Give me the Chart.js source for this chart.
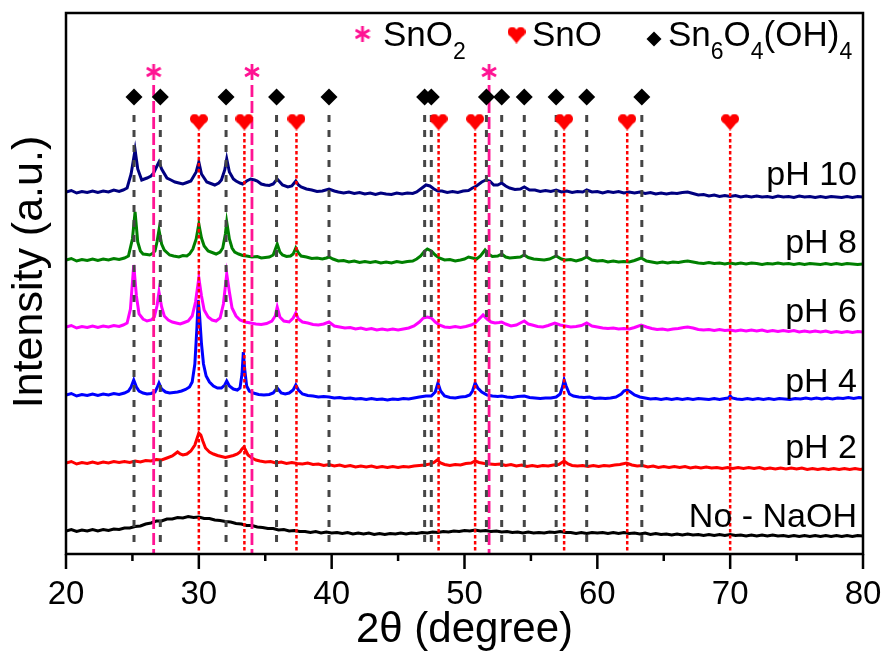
<!DOCTYPE html>
<html><head><meta charset="utf-8">
<script src="https://cdn.jsdelivr.net/npm/chart.js@4/dist/chart.umd.min.js"></script>
<style>html,body{margin:0;padding:0;background:#fff}#wrap{width:886px;height:657px;position:relative}</style>
</head><body><div id="wrap"><canvas id="c" width="886" height="657"></canvas></div>
<script>
// ---------- DATA ----------
const xTicks = [20, 30, 40, 50, 60, 70, 80];
const seriesNames = ['pH 10', 'pH 8', 'pH 6', 'pH 4', 'pH 2', 'No - NaOH'];

const pH10 = [[20,362],[20.4,363.5],[20.8,361],[21.2,362.5],[21.6,361.5],[22,363],[22.4,361.5],[22.8,363],[23.2,362],[23.6,364],[24,362.5],[24.3,364],[24.6,366],[24.9,380],[25.2,404],[25.4,385],[25.7,374],[26.1,376],[26.4,378],[26.6,381],[26.85,388],[27.0,392],[27.2,385],[27.6,376],[27.9,374],[28.2,372],[28.5,371],[28.8,370],[29.1,371.5],[29.4,373],[29.8,382],[30.0,392],[30.2,380],[30.6,372],[30.9,370.5],[31.2,369],[31.5,371],[31.7,374],[31.95,384],[32.1,395],[32.3,382],[32.6,375],[32.8,373],[33.1,371],[33.3,370],[33.6,373],[33.9,375],[34.2,374],[34.4,373],[34.7,370],[35,369],[35.3,368.5],[35.6,370],[35.9,375],[36.1,372],[36.3,369],[36.7,367],[37,368],[37.3,373],[37.5,369],[37.7,367],[38.1,365],[38.5,364],[38.9,362.5],[39.3,363],[39.8,365],[40.2,363],[40.5,362],[40.9,361],[41.3,362],[41.7,360.5],[42.1,361.5],[42.5,360],[42.9,361],[43.3,359.5],[43.7,361],[44.1,360],[44.5,359.5],[44.9,361],[45.3,360],[45.7,361],[46.1,360.5],[46.4,362],[46.7,365],[47.1,369],[47.4,368],[47.7,365],[48,363],[48.3,363],[48.7,361.5],[49.1,362.5],[49.5,361.5],[49.9,363],[50.3,363.5],[50.6,366],[50.9,368],[51.3,372],[51.6,374],[51.9,373],[52.2,369],[52.5,369],[52.8,371],[53.1,368],[53.4,366],[53.8,364.5],[54.2,365],[54.5,367],[54.9,364],[55.3,364],[55.7,362.5],[56.1,363.5],[56.5,362.5],[56.9,364],[57.3,362],[57.7,363],[58.1,361.5],[58.5,362.5],[58.9,362],[59.2,364],[59.6,362],[60,362.5],[60.4,361],[60.8,362.5],[61.2,361.5],[61.6,362.5],[62,361],[62.4,362],[62.8,361],[63.2,362],[63.6,360.5],[64,361.5],[64.4,360],[64.8,361],[65.2,360],[65.6,361],[66,360.5],[66.4,361.5],[66.8,362],[67.2,360.5],[67.6,359],[68,359.5],[68.4,358],[68.8,359],[69.2,357.5],[69.6,358.5],[70,357.5],[70.4,358.5],[70.8,357],[71.2,358],[71.6,357],[72,358],[72.4,357],[72.8,357.5],[73.2,356.5],[73.6,358],[74,357],[74.4,357.5],[74.8,356.5],[75.2,358],[75.6,357],[76,357.5],[76.4,356.5],[76.8,357.5],[77.2,356.5],[77.6,357.5],[78,357],[78.4,356.5],[78.8,357.5],[79.2,356.5],[79.6,357.5],[80,357]];

const pH8 = [[20,294],[20.4,295.5],[20.8,293],[21.2,294.5],[21.6,293.5],[22,295],[22.4,293.5],[22.8,295],[23.2,294],[23.6,295.5],[24,294.5],[24.4,296],[24.7,298],[25.0,315],[25.2,342],[25.4,312],[25.6,303],[25.8,300],[26.1,299.5],[26.3,299],[26.5,300.5],[26.7,303],[26.85,312],[27.0,324],[27.2,310],[27.4,304],[27.8,299],[28.1,298],[28.5,297],[28.8,298.5],[29.1,298],[29.3,300],[29.55,305],[29.8,315],[30,330],[30.2,316],[30.4,308],[30.7,303],[31,301.5],[31.3,300],[31.6,302],[31.8,306],[32.0,320],[32.1,332],[32.3,315],[32.5,306],[32.7,302],[33,300],[33.3,298.5],[33.6,298],[34,297],[34.4,297.5],[34.7,296],[35,296.5],[35.3,297],[35.6,299],[35.9,310],[36.1,302],[36.3,299],[36.6,297.5],[36.9,298],[37.1,300],[37.3,306],[37.5,301],[37.7,298],[38.1,297],[38.5,295.5],[38.9,296],[39.3,295],[39.6,296],[39.8,297],[40.1,295],[40.5,293],[40.9,293.5],[41.3,292],[41.7,293],[42.1,291.5],[42.5,292.5],[42.9,291.5],[43.3,292.5],[43.7,291],[44.1,292],[44.5,291],[44.9,292.5],[45.3,291.5],[45.7,292.5],[46.1,293],[46.4,295],[46.7,298],[47.0,303],[47.2,305],[47.5,303],[47.8,299],[48.1,296],[48.5,294],[48.9,294.5],[49.3,293],[49.7,294],[50,295],[50.3,297],[50.6,296],[50.9,295],[51.2,298],[51.55,304],[51.8,300],[52.1,297.5],[52.5,298],[52.8,300],[53.1,297],[53.4,296],[53.8,296.5],[54.2,297],[54.5,299],[54.8,296.5],[55.2,295],[55.6,294.5],[56,294],[56.4,295],[56.9,298],[57.3,295],[57.6,294],[58,294.5],[58.4,293],[58.8,294.5],[59.2,297],[59.6,294],[60,293],[60.4,293.5],[60.8,292],[61.2,293],[61.6,292],[62,292.5],[62.4,292],[62.8,293.5],[63.3,296],[63.7,293],[64.1,292],[64.5,291],[64.9,292],[65.3,291],[65.7,292],[66.1,291.5],[66.5,292.5],[66.8,293],[67.2,292],[67.6,291],[68,290.5],[68.4,291.5],[68.8,290.5],[69.2,291],[69.6,290],[70,291],[70.4,290],[70.8,291],[71.2,290],[71.6,291],[72,290.5],[72.4,289.5],[72.8,290.5],[73.2,290],[73.6,291],[74,290],[74.4,290.5],[74.8,289.5],[75.2,290.5],[75.6,289.5],[76,290.5],[76.4,290],[76.8,289.5],[77.2,290.5],[77.6,289.5],[78,290.5],[78.4,289.5],[78.8,290.5],[79.2,290],[79.6,289.5],[80,290]];

const pH6 = [[20,227],[20.4,228.5],[20.8,226],[21.2,227.5],[21.6,226.5],[22,228],[22.4,226.5],[22.8,228],[23.2,227],[23.6,228.5],[24,227.5],[24.3,229],[24.6,231],[24.85,245],[25.1,289],[25.3,258],[25.5,240],[25.8,235],[26.1,233],[26.4,234],[26.65,237],[26.85,248],[27.0,262],[27.2,247],[27.4,238],[27.7,234],[28,232],[28.3,231],[28.6,230],[28.9,231.5],[29.2,233],[29.5,238],[29.75,252],[30,276],[30.2,258],[30.4,244],[30.7,237],[31,234],[31.3,233],[31.6,236],[31.85,250],[32.1,280],[32.3,262],[32.5,246],[32.8,238],[33.1,234],[33.5,232],[33.9,231],[34.3,230],[34.7,229.5],[35.1,230.5],[35.5,233],[35.75,238],[35.9,247],[36.1,237],[36.4,233],[36.8,232],[37.1,236],[37.3,241],[37.5,235],[37.8,232],[38.2,231],[38.6,229.5],[39,229],[39.4,230],[39.8,232],[40.2,228],[40.6,227],[41,226],[41.4,226.5],[41.8,225],[42.2,226],[42.6,224.5],[43,225.5],[43.4,224],[43.8,225],[44.2,224],[44.6,225],[45,224],[45.4,225],[45.8,226],[46.2,228],[46.6,232],[46.9,236],[47.2,237],[47.5,236],[47.8,232],[48.1,229],[48.5,227],[48.9,226.5],[49.3,227.5],[49.7,226.5],[50.1,227.5],[50.5,229],[50.8,231],[51.1,235],[51.4,239],[51.7,235],[52,232],[52.3,231],[52.6,231.5],[52.8,232],[53.1,230],[53.5,228],[53.9,229],[54.2,231],[54.5,233],[54.8,230],[55.1,229],[55.5,227.5],[55.9,227],[56.3,228.5],[56.8,231],[57.2,229],[57.6,228],[58,227],[58.4,227.5],[58.8,228.5],[59.2,231],[59.6,228],[60,227],[60.4,226],[60.8,225.5],[61.2,226],[61.6,225],[62,225.5],[62.4,225],[62.8,226.5],[63.3,229],[63.7,227],[64.1,225.5],[64.5,224.5],[64.9,225],[65.3,224],[65.7,225],[66.1,225.5],[66.5,226.5],[66.8,227],[67.2,226],[67.6,224.5],[68,224],[68.4,224.5],[68.8,223.5],[69.2,224.5],[69.6,223.5],[70,224],[70.4,223],[70.8,224],[71.2,223],[71.6,224],[72,223],[72.4,224],[72.8,222.5],[73.2,223.5],[73.6,222.5],[74,223.5],[74.4,222.5],[74.8,223.5],[75.2,222],[75.6,223],[76,222],[76.4,223],[76.8,222],[77.2,223],[77.6,221.5],[78,222.5],[78.4,221.5],[78.8,222.5],[79.2,221.5],[79.6,222.5],[80,222]];

const pH4 = [[20,159],[20.4,160.5],[20.8,158],[21.2,159.5],[21.6,158.5],[22,160],[22.4,158.5],[22.8,160],[23.2,159],[23.6,160.5],[24,159.5],[24.4,161],[24.7,163],[24.9,167],[25.1,174],[25.3,167],[25.5,163],[25.8,161],[26.1,160],[26.4,160.5],[26.7,162],[26.85,166],[27.0,171],[27.2,165],[27.5,162],[27.8,161],[28.1,161.5],[28.4,162],[28.7,163],[29,164.5],[29.3,167],[29.5,172],[29.7,190],[29.85,225],[29.95,254],[30.05,240],[30.2,210],[30.35,190],[30.55,178],[30.8,172],[31.1,168],[31.4,166],[31.7,166],[31.95,169],[32.1,173],[32.3,168],[32.6,165],[32.9,164],[33.1,166],[33.25,180],[33.35,202],[33.45,185],[33.6,168],[33.8,163],[34.1,161],[34.5,159.5],[34.9,159],[35.3,159.5],[35.6,161],[35.9,166],[36.2,161],[36.5,160],[36.8,161],[37.1,164],[37.3,169],[37.5,164],[37.8,160],[38.2,158.5],[38.6,158],[39,157],[39.4,157.5],[39.8,157],[40.2,156],[40.6,156.5],[41,155.5],[41.4,156],[41.8,155],[42.2,155.5],[42.6,154.5],[43,155.5],[43.4,154.5],[43.8,155],[44.2,154],[44.6,155],[45,154.5],[45.4,155.5],[45.8,155],[46.2,156],[46.6,157],[47.1,158],[47.5,158],[47.8,162],[48.0,171],[48.2,163],[48.5,158],[48.9,156.5],[49.3,156],[49.7,157],[50.1,157.5],[50.4,159],[50.6,163],[50.8,171],[51.0,166],[51.3,162],[51.7,159],[52.1,158],[52.5,157.5],[52.8,158],[53.2,157],[53.6,156.5],[54,157.5],[54.5,158],[54.9,156.5],[55.3,156],[55.7,155.5],[56.1,156],[56.5,156],[56.9,157],[57.2,160],[57.4,168],[57.5,174],[57.65,168],[57.9,160],[58.2,158],[58.6,157],[59,156.5],[59.4,157],[59.8,155.5],[60.2,156],[60.6,155.5],[61,156],[61.4,157],[61.8,160],[62.0,163],[62.25,164],[62.5,162],[62.8,159],[63.2,157],[63.6,156],[64,155],[64.4,155.5],[64.8,154.5],[65.2,155.5],[65.6,154.5],[66,155.5],[66.4,154.5],[66.8,155.5],[67.2,154.5],[67.6,155.5],[68,155],[68.4,154.5],[68.8,155.5],[69.2,154.5],[69.6,155.5],[69.85,156],[70.0,158],[70.15,156],[70.5,155],[70.9,154.5],[71.3,155.5],[71.7,154.5],[72.1,155.5],[72.5,154.5],[72.9,155.5],[73.3,154.5],[73.7,155.5],[74.1,155],[74.5,154.5],[74.9,155.5],[75.3,155],[75.7,156],[76.1,155],[76.5,156],[76.9,155],[77.3,156],[77.7,155],[78.1,156],[78.5,155.5],[78.9,156.5],[79.3,155.5],[79.7,156.5],[80,156]];

const pH2 = [[20,91],[20.4,92.5],[20.8,90],[21.2,91.5],[21.6,90.5],[22,92],[22.4,90.5],[22.8,92],[23.2,91],[23.6,92.5],[24,91.5],[24.4,92.5],[24.8,91.5],[25.2,93],[25.6,92],[26,93.5],[26.4,93],[26.8,94.5],[27.2,94],[27.6,96],[28,98],[28.2,100],[28.4,102],[28.6,100],[28.8,99],[29.1,100],[29.4,103],[29.7,109],[29.85,115],[30,121],[30.15,119],[30.3,113],[30.5,106],[30.8,102],[31.1,100],[31.4,98.5],[31.7,97.5],[32,96.5],[32.3,97.5],[32.6,98.5],[32.9,100],[33.1,102],[33.25,105],[33.4,107],[33.55,103],[33.7,99],[34,96],[34.3,94],[34.6,93],[35,92],[35.4,92.5],[35.8,91],[36.2,92],[36.6,90.5],[37,91.5],[37.4,90.5],[37.8,90],[38.2,91],[38.6,89.5],[39,90],[39.4,88.5],[39.8,89.5],[40.2,88],[40.6,89],[41,87.5],[41.4,88.5],[41.8,87],[42.2,88],[42.6,87],[43,88],[43.4,86.5],[43.8,87.5],[44.2,86.5],[44.6,87.5],[45,86.5],[45.4,87.5],[45.8,87],[46.2,88],[46.6,88.5],[47,89],[47.4,90],[47.7,91.5],[47.95,94],[48.2,91],[48.5,89.5],[48.9,88.5],[49.3,89.5],[49.7,89],[50.1,90.5],[50.5,91],[50.8,93],[51.1,91.5],[51.5,90.5],[51.9,90],[52.3,89.5],[52.7,90],[53.1,88.5],[53.5,89.5],[53.9,88],[54.3,89],[54.7,87.5],[55.1,88.5],[55.5,87.5],[55.9,88.5],[56.3,88],[56.7,89],[57.1,89.5],[57.5,93],[57.8,90],[58.1,88.5],[58.5,88],[58.9,88.5],[59.3,87.5],[59.7,88.5],[60.1,87.5],[60.5,88.5],[60.9,88],[61.3,89],[61.7,89.5],[62.2,91],[62.6,89],[63,88],[63.4,88.5],[63.8,87],[64.2,88],[64.6,86.5],[65,87.5],[65.4,86.5],[65.8,87.5],[66.2,86.5],[66.6,87.5],[67,86],[67.4,87],[67.8,86],[68.2,87],[68.6,86],[69,86.5],[69.4,85.5],[69.8,86.5],[70.2,85.5],[70.6,86.5],[71,85.5],[71.4,86.5],[71.8,85.5],[72.2,86.5],[72.6,85],[73,86],[73.4,85],[73.8,86],[74.2,85],[74.6,86],[75,85],[75.4,86],[75.8,84.5],[76.2,85.5],[76.6,84.5],[77,85.5],[77.4,84.5],[77.8,85.5],[78.2,84.5],[78.6,85.5],[79,84.5],[79.4,85.5],[79.8,84.5],[80,85]];

const noNaOH = [[20,23],[20.4,24.5],[20.8,22.5],[21.2,24],[21.6,23],[22,24.5],[22.4,23],[22.8,24.5],[23.2,23.5],[23.6,25],[24,24.5],[24.4,26],[24.8,26],[25.2,27.5],[25.6,28],[26,30],[26.4,31],[26.8,33],[27.2,33],[27.6,35],[28,35],[28.4,36.5],[28.8,36],[29.2,37.5],[29.6,36.5],[30,37],[30.4,35.5],[30.8,35.5],[31.2,34],[31.6,33.5],[32,32.5],[32.4,32],[32.8,30.5],[33.2,30],[33.6,28.5],[34,28.5],[34.4,27],[34.8,26.5],[35.2,25.5],[35.6,25.5],[36,24],[36.4,24.5],[36.8,23],[37.2,23.5],[37.6,22.5],[38,22.5],[38.4,21.5],[38.8,22.5],[39.2,21],[39.6,22],[40,21],[40.4,21.5],[40.8,20.5],[41.2,21.5],[41.6,20],[42,21],[42.4,20],[42.8,21],[43.2,19.5],[43.6,20.5],[44,19.5],[44.4,20.5],[44.8,20],[45.2,21],[45.6,20],[46,21],[46.4,20.5],[46.8,21.5],[47.2,21],[47.6,22],[48,21.5],[48.4,22.5],[48.8,22],[49.2,23],[49.6,22.5],[50,23.5],[50.4,23],[50.8,24],[51.2,23],[51.6,23.5],[52,22.5],[52.4,23],[52.8,22],[53.2,22.5],[53.6,21.5],[54,22],[54.4,21],[54.8,22],[55.2,21],[55.6,21.5],[56,21],[56.4,22],[56.8,21.5],[57.2,22.5],[57.6,21.5],[58,21.5],[58.4,20.5],[58.8,21.5],[59.2,20.5],[59.6,21.5],[60,21],[60.4,21.5],[60.8,20.5],[61.2,21.5],[61.6,20.5],[62,21.5],[62.4,20.5],[62.8,21],[63.2,20],[63.6,21],[64,19.5],[64.4,20.5],[64.8,19.5],[65.2,20],[65.6,19],[66,20],[66.4,19],[66.8,20],[67.2,19],[67.6,19.5],[68,18.5],[68.4,19.5],[68.8,18.5],[69.2,19.5],[69.6,18.5],[70,19.5],[70.4,18.5],[70.8,19],[71.2,18],[71.6,19],[72,18],[72.4,19],[72.8,18],[73.2,19],[73.6,18],[74,18.5],[74.4,17.5],[74.8,18.5],[75.2,17.5],[75.6,18.5],[76,17.5],[76.4,18.5],[76.8,17.5],[77.2,18.5],[77.6,17.5],[78,18.5],[78.4,17.5],[78.8,18.5],[79.2,17.5],[79.6,18.5],[80,18]];

// reference peak positions (2θ)
const sn6o4oh4Peaks = [25.12, 27.1, 32.05, 35.85, 39.8, 47.0, 47.5, 51.65, 52.8, 54.5, 56.9, 59.2, 63.35];
const snoPeaks = [30.0, 33.43, 37.35, 48.05, 50.8, 57.5, 62.25, 70.0];
const sno2Peaks = [26.6, 34.0, 51.85];

// ---------- LAYOUT / STYLE (not data) ----------
const Y_MAX = 541;
const markY = { diamond: 457, heart: 432, star: 482 };
const lineSpan = { gray: [439, 9], red: [421, 0], pink: [469, 0] };
const seriesColors = ['#000080', '#008000', '#FF00FF', '#0000FF', '#FF0000', '#000000'];
const labelBaselines = [185, 253, 322, 392, 458, 527];
const FONT = '"Liberation Sans", Arial, Helvetica, sans-serif';

function makeHeart(w, h, color) {
  const c = document.createElement('canvas'); c.width = w; c.height = h;
  const g = c.getContext('2d'); g.fillStyle = color;
  const r = w * 0.265;
  g.beginPath(); g.arc(r, r + 0.5, r, 0, Math.PI * 2); g.fill();
  g.beginPath(); g.arc(w - r, r + 0.5, r, 0, Math.PI * 2); g.fill();
  g.beginPath(); g.moveTo(0.4, r + 2); g.lineTo(w / 2, h); g.lineTo(w - 0.4, r + 2); g.lineTo(w / 2, r); g.closePath(); g.fill();
  return c;
}
function makeStar(s, color) {
  const c = document.createElement('canvas'); c.width = s; c.height = s + 2;
  const g = c.getContext('2d'); g.strokeStyle = color; g.lineWidth = 2.8; g.lineCap = 'butt';
  const cx = s / 2, cy = (s + 2) / 2, R = s / 2;
  for (let k = 0; k < 3; k++) {
    const a = Math.PI / 2 + k * Math.PI / 3;
    g.beginPath(); g.moveTo(cx + R * Math.cos(a), cy + R * Math.sin(a));
    g.lineTo(cx - R * Math.cos(a), cy - R * Math.sin(a)); g.stroke();
  }
  return c;
}
const heartImg = makeHeart(18, 17, '#FF0000');
const starImg = makeStar(16, '#FF1493');

function toPts(arr) { return arr.map(p => ({ x: p[0], y: p[1] })); }
function refLines(xs, span) {
  const out = [];
  xs.forEach(x => { out.push({ x, y: span[0] }, { x, y: span[1] }, { x, y: null }); });
  return out;
}
function markers(xs, y) { return xs.map(x => ({ x, y })); }

const datasets = [
  { label: 'Sn6O4(OH)4', data: markers(sn6o4oh4Peaks, markY.diamond), pointStyle: 'rectRot', pointRadius: 8.5, backgroundColor: '#000', borderColor: '#000', borderWidth: 0, showLine: false },
  { label: 'SnO', data: markers(snoPeaks, markY.heart), pointStyle: heartImg, pointRadius: 9, showLine: false },
  { label: 'SnO2', data: markers(sno2Peaks, markY.star), pointStyle: starImg, pointRadius: 8, showLine: false },
  { label: 'gray', data: refLines(sn6o4oh4Peaks, lineSpan.gray), showLine: true, spanGaps: false, borderColor: '#454545', borderWidth: 3, borderDash: [7, 8], pointRadius: 0 },
  { label: 'red', data: refLines(snoPeaks, lineSpan.red), showLine: true, spanGaps: false, borderColor: '#FF0000', borderWidth: 2.5, borderDash: [3.5, 2.5], pointRadius: 0 },
  { label: 'pink', data: refLines(sno2Peaks, lineSpan.pink), showLine: true, spanGaps: false, borderColor: '#FF1493', borderWidth: 2.8, borderDash: [12, 4], pointRadius: 0 },
];
[pH10, pH8, pH6, pH4, pH2, noNaOH].forEach((s, i) => {
  datasets.push({ label: seriesNames[i], data: toPts(s), showLine: true, borderColor: seriesColors[i], borderWidth: 3, pointRadius: 0, tension: 0 });
});

const decor = {
  id: 'decor',
  afterDraw(chart) {
    const { ctx, chartArea: a, scales: { x } } = chart;
    ctx.save();
    ctx.strokeStyle = '#000'; ctx.lineWidth = 2.5;
    ctx.strokeRect(a.left, a.top, a.right - a.left, a.bottom - a.top);
    for (let v = 20; v <= 80; v += 5) {
      const px = x.getPixelForValue(v);
      const len = (v % 10 === 0) ? 15 : 7;
      ctx.beginPath(); ctx.moveTo(px, a.bottom); ctx.lineTo(px, a.bottom + len); ctx.stroke();
    }
    ctx.fillStyle = '#000';
    ctx.font = '34px ' + FONT; ctx.textAlign = 'right'; ctx.textBaseline = 'alphabetic';
    seriesNames.forEach((n, i) => ctx.fillText(n, 857, labelBaselines[i]));
    ctx.save(); ctx.translate(30, 272); ctx.rotate(-Math.PI / 2);
    ctx.font = '43px ' + FONT; ctx.textAlign = 'center'; ctx.textBaseline = 'middle';
    ctx.fillText('Intensity (a.u.)', 0, 0); ctx.restore();
    function rich(parts, x0, base) {
      let xx = x0; ctx.textAlign = 'left'; ctx.textBaseline = 'alphabetic';
      parts.forEach(p => {
        ctx.font = (p.sub ? '23px ' : '35px ') + FONT;
        ctx.fillText(p.t, xx, p.sub ? base + 13 : base);
        xx += ctx.measureText(p.t).width;
      });
    }
    ctx.drawImage(starImg, 362.5 - starImg.width / 2, 34 - starImg.height / 2);
    rich([{ t: 'SnO' }, { t: '2', sub: true }], 383, 46);
    ctx.drawImage(heartImg, 516.5 - heartImg.width / 2, 35 - heartImg.height / 2);
    rich([{ t: 'SnO' }], 532, 46);
    ctx.fillStyle = '#000';
    ctx.beginPath(); ctx.moveTo(654, 31.5); ctx.lineTo(661.5, 39); ctx.lineTo(654, 46.5); ctx.lineTo(646.5, 39); ctx.closePath(); ctx.fill();
    rich([{ t: 'Sn' }, { t: '6', sub: true }, { t: 'O' }, { t: '4', sub: true }, { t: '(OH)' }, { t: '4', sub: true }], 668, 46);
    ctx.restore();
  }
};

new Chart(document.getElementById('c'), {
  type: 'scatter',
  data: { datasets },
  options: {
    responsive: false, animation: false, devicePixelRatio: 1,
    layout: { padding: { top: 13, right: 23, left: 0, bottom: 0 } },
    plugins: { legend: { display: false }, tooltip: { enabled: false } },
    scales: {
      x: {
        type: 'linear', min: 20, max: 80,
        afterBuildTicks(s) { s.ticks = xTicks.map(v => ({ value: v })); },
        afterFit(s) { s.height = 103; s.paddingLeft = 0; s.paddingRight = 0; },
        grid: { display: false, drawTicks: false },
        border: { display: false },
        ticks: { color: '#000', padding: 21, font: { size: 33, family: FONT }, maxRotation: 0, autoSkip: false },
        title: { display: true, text: '2θ (degree)', color: '#000', font: { size: 42, family: FONT }, padding: { top: 0, bottom: 1 } }
      },
      y: {
        type: 'linear', min: 0, max: Y_MAX,
        afterFit(s) { s.width = 66; s.paddingTop = 0; s.paddingBottom = 0; },
        grid: { display: false, drawTicks: false },
        border: { display: false },
        ticks: { display: false }
      }
    }
  },
  plugins: [decor]
});
</script></body></html>
